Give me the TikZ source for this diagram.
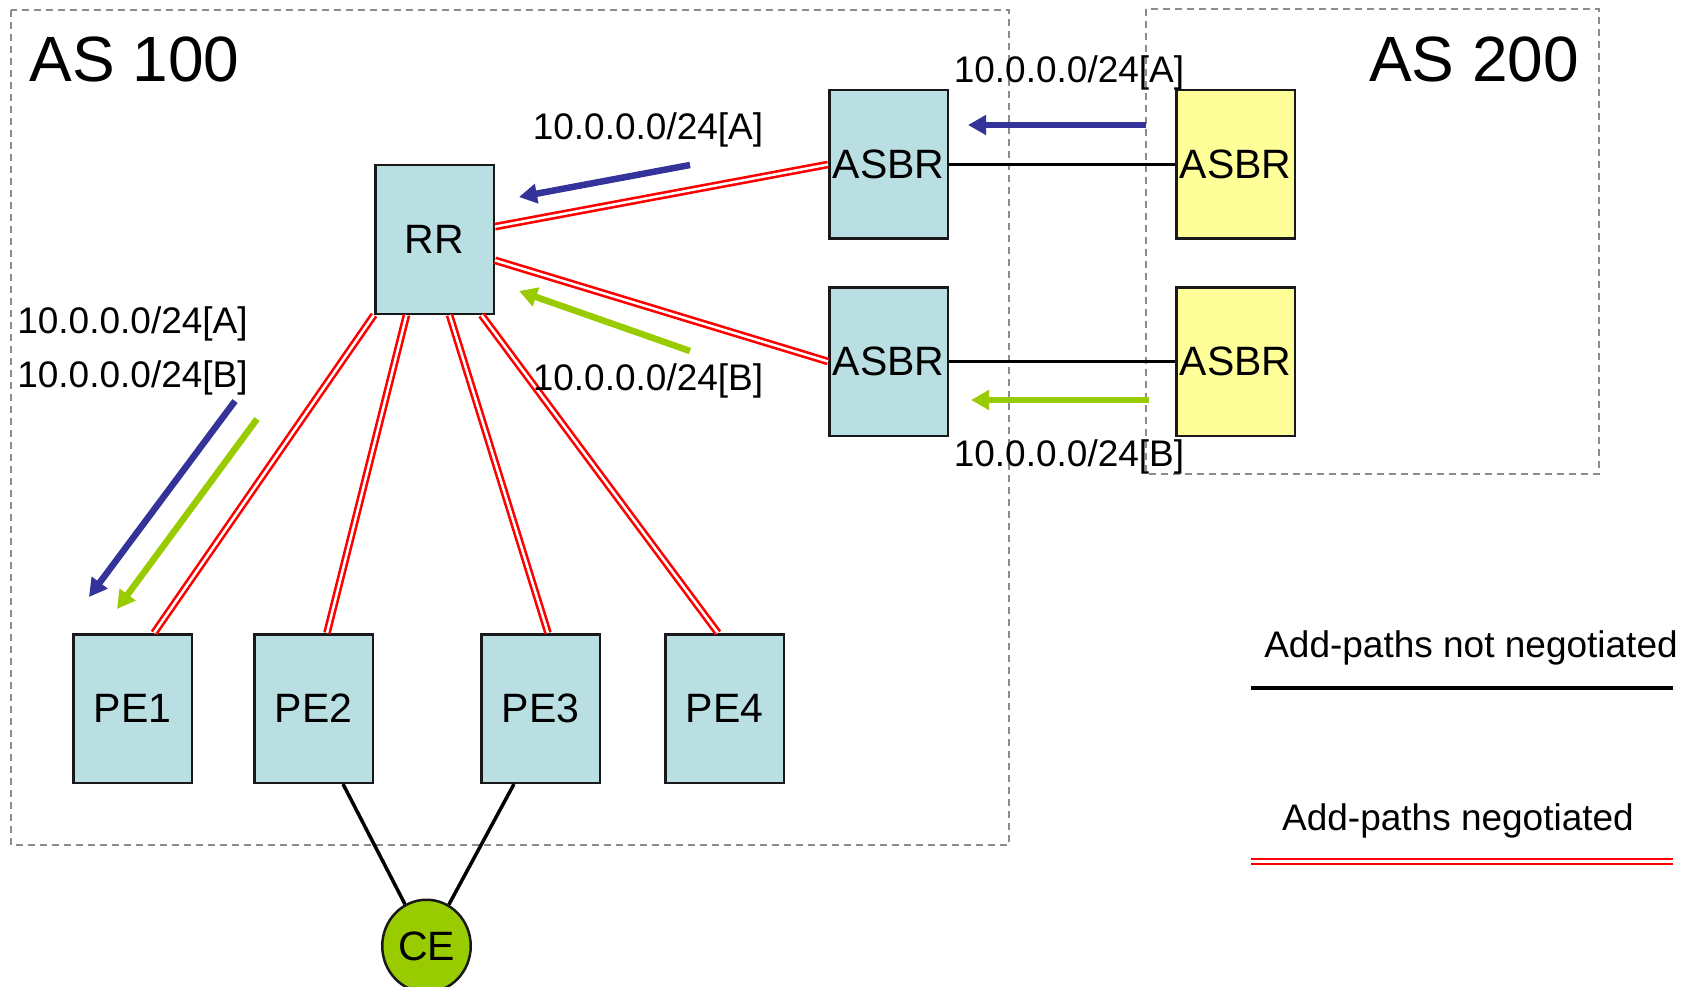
\documentclass[tikz,border=0pt]{standalone}
\usepackage{fontspec}
\setmainfont{Liberation Sans}
\usetikzlibrary{arrows.meta,calc,shapes.geometric}
\definecolor{boxteal}{HTML}{B9DFE3}
\definecolor{asyellow}{HTML}{FFFF99}
\definecolor{cegreen}{HTML}{99CC00}
\definecolor{pblue}{HTML}{333399}
\definecolor{pgreen}{HTML}{99CC00}
\definecolor{dashgray}{HTML}{8C8C8C}
\begin{document}
\begin{tikzpicture}[x=1pt,y=-1pt,
  dev/.style={draw=black!90, line width=2.5pt, fill=boxteal, minimum width=118.5pt, minimum height=148.5pt, inner sep=0pt, font=\fontsize{41}{48}\selectfont},
  ext/.style={dev, fill=asyellow},
  cenode/.style={ellipse, draw=black!90, line width=2.5pt, fill=cegreen, minimum width=88.5pt, minimum height=92.5pt, inner sep=0pt, font=\fontsize{41}{48}\selectfont},
  addp/.style={draw=red, double=white, double distance=2.5pt, line width=2.6pt},
  plainlink/.style={draw=black, line width=3.5pt},
  asbox/.style={draw=dashgray, line width=2pt, dash pattern=on 7pt off 5pt},
  pfxA/.style={draw=pblue, line width=6.5pt, -{Triangle[length=18pt,width=19pt]}},
  pfxB/.style={draw=pgreen, line width=6.5pt, -{Triangle[length=18pt,width=19pt]}},
  lbl/.style={font=\fontsize{37}{44}\selectfont, anchor=base, inner sep=0pt},
  aslbl/.style={font=\fontsize{64}{72}\selectfont, anchor=base, inner sep=0pt}
]
\useasboundingbox (0,0) rectangle (1698,987);

% AS boxes
\draw[asbox] (11,10) rectangle (1009,845);
\draw[asbox] (1146,9) rectangle (1599,474);
\node[aslbl] (as100) at (134.5,82) {AS 100};
\node[aslbl] (as200) at (1474,82) {AS 200};

% devices
\node[dev] (RR) at (434.5,239.5) {RR};
\node[dev] (A1) at (888.5,164.5) {ASBR};
\node[dev] (A2) at (888.5,361.5) {ASBR};
\node[ext] (B1) at (1235.5,164.5) {ASBR};
\node[ext] (B2) at (1235.5,361.5) {ASBR};
\node[dev] (PE1) at (132.5,708.5) {PE1};
\node[dev] (PE2) at (313.5,708.5) {PE2};
\node[dev] (PE3) at (540.5,708.5) {PE3};
\node[dev] (PE4) at (724.5,708.5) {PE4};
\node[cenode] (CE) at (426.5,946) {CE};

% add-paths sessions
\draw[addp] (RR.12) -- (A1.west);
\draw[addp] (RR.-19) -- (A2.west);
\draw[addp] (RR.south west) -- ([xshift=21.5pt]PE1.north);
\draw[addp] ([xshift=-28pt]RR.south) -- ([xshift=13.5pt]PE2.north);
\draw[addp] ([xshift=15pt]RR.south) -- ([xshift=7.5pt]PE3.north);
\draw[addp] ([xshift=47pt]RR.south) -- ([xshift=-6.5pt]PE4.north);

% plain links
\draw[plainlink] (A1.east) -- (B1.west);
\draw[plainlink] (A2.east) -- (B2.west);
\draw[plainlink] ([xshift=29.5pt]PE2.south) -- (CE);
\draw[plainlink] ([xshift=-26.5pt]PE3.south) -- (CE);

% prefix advertisements
\coordinate (t1s) at (1146,125); \coordinate (t1e) at (968,125);
\coordinate (t2s) at (1149,400); \coordinate (t2e) at (971,400);
\coordinate (r1s) at (690,165);  \coordinate (r1e) at (519,197);
\coordinate (r2s) at (690,351);  \coordinate (r2e) at (519,291);
\coordinate (p1s) at (235,401);  \coordinate (p1e) at (89,597);
\coordinate (p2s) at (257,419);  \coordinate (p2e) at (117,609);
\draw[pfxA] (t1s) -- (t1e);
\draw[pfxB] (t2s) -- (t2e);
\draw[pfxA] (r1s) -- (r1e);
\draw[pfxB] (r2s) -- (r2e);
\draw[pfxA] (p1s) -- (p1e);
\draw[pfxB] (p2s) -- (p2e);

\node[lbl] (lt1) at (1069,83) {10.0.0.0/24[A]};
\node[lbl] (lt2) at (1069,466) {10.0.0.0/24[B]};
\node[lbl] (lr1) at (648,140) {10.0.0.0/24[A]};
\node[lbl] (lr2) at (648,390) {10.0.0.0/24[B]};
\node[lbl] (lp1) at (132.5,333) {10.0.0.0/24[A]};
\node[lbl] (lp2) at (132.5,387) {10.0.0.0/24[B]};

% legend
\node[lbl] (leg1) at (1471,657) {Add-paths not negotiated};
\node[lbl] (leg2) at (1458,830) {Add-paths negotiated};
\coordinate (k1s) at (1251,688); \coordinate (k1e) at (1673,688);
\coordinate (k2s) at (1251,861.5); \coordinate (k2e) at (1673,861.5);
\draw[draw=black, line width=4pt] (k1s) -- (k1e);
\draw[addp] (k2s) -- (k2e);
\end{tikzpicture}
\end{document}
